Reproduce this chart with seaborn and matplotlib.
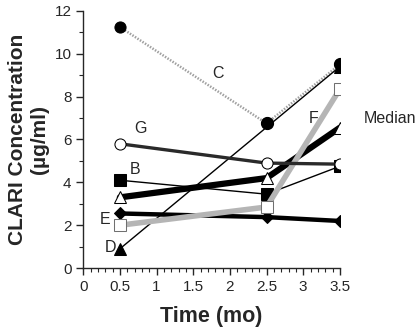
import pandas as pd
import numpy as np
import matplotlib
matplotlib.use('Agg')
import matplotlib.pyplot as plt
import seaborn as sns
from matplotlib.ticker import MultipleLocator

# data
time_mo = [0.5, 2.5, 3.5]
conc_C = [11.25, 6.75, 9.5]
conc_G = [5.8, 4.9, 4.85]
conc_B = [4.1, 3.45, 4.75]
conc_median = [3.3, 4.2, 6.55]
conc_E = [2.55, 2.38, 2.2]
conc_F = [2.0, 2.85, 8.35]
# D: the 2.5 mo point is hidden under C, only the end points show
time_D = [0.5, 3.5]
conc_D = [0.9, 9.4]

series_names = ['C', 'B', 'E', 'Median', 'F', 'G', 'D']
series_times = [time_mo, time_mo, time_mo, time_mo, time_mo, time_mo, time_D]
series_values = [conc_C, conc_B, conc_E, conc_median, conc_F, conc_G, conc_D]

rows = []
for name, times, vals in zip(series_names, series_times, series_values):
    for t, v in zip(times, vals):
        rows.append({'series': name, 'time': t, 'conc': v})
df = pd.DataFrame(rows)

sns.set_style('ticks')
plt.rcParams['font.family'] = ['Liberation Sans', 'DejaVu Sans']

# line / marker look per series
styles = {
    'C': dict(color='#a0a0a0', linewidth=1.8, linestyle=(0, (0.6, 0.6)), marker='o',
              markerfacecolor='black', markeredgecolor='black', markersize=8, zorder=3),
    'B': dict(color='black', linewidth=1.0, marker='s', markerfacecolor='black',
              markeredgecolor='black', markersize=8, zorder=4),
    'E': dict(color='black', linewidth=3.2, marker='D', markerfacecolor='black',
              markeredgecolor='black', markersize=6, zorder=4),
    'Median': dict(color='black', linewidth=4.5, marker='^', markerfacecolor='white',
                   markeredgecolor='black', markersize=8, zorder=5),
    'F': dict(color='#b5b5b5', linewidth=4.0, marker='s', markerfacecolor='white',
              markeredgecolor='#707070', markersize=8, zorder=6),
    'G': dict(color='#2a2a2a', linewidth=2.4, marker='o', markerfacecolor='white',
              markeredgecolor='black', markersize=8, zorder=7),
    'D': dict(color='black', linewidth=1.0, marker='^', markerfacecolor='black',
              markeredgecolor='black', markersize=8, zorder=3.5),
}

fig = plt.figure(figsize=(4.18, 3.29), dpi=100)
ax = fig.add_axes([0.199, 0.185, 0.614, 0.782])

for name in series_names:
    sub = df[df['series'] == name]
    sns.lineplot(data=sub, x='time', y='conc', ax=ax, estimator=None,
                 sort=False, legend=False, **styles[name])

# C markers sit on top of the D line/triangle
ax.plot(time_mo[1:], conc_C[1:], 'o', color='black', markersize=8.5, zorder=8)

labels = [('C', 1.76, 9.1), ('G', 0.7, 6.5), ('B', 0.64, 4.6), ('E', 0.23, 2.25),
          ('D', 0.3, 0.95), ('F', 3.07, 7.0), ('Median', 3.82, 7.0)]
for txt, lx, ly in labels:
    ax.text(lx, ly, txt, fontsize=11.5, ha='left', va='center', clip_on=False)

ax.set_xlim(0, 3.5)
ax.set_ylim(0, 12)
ax.xaxis.set_major_locator(MultipleLocator(0.5))
ax.xaxis.set_minor_locator(MultipleLocator(0.1))
ax.yaxis.set_major_locator(MultipleLocator(2))
ax.yaxis.set_minor_locator(MultipleLocator(1))
ax.set_xticks([0, 0.5, 1, 1.5, 2, 2.5, 3, 3.5])
ax.set_xticklabels(['0', '0.5', '1', '1.5', '2', '2.5', '3', '3.5'])
ax.tick_params(axis='both', which='major', labelsize=11, length=5, width=1, direction='out')
ax.tick_params(axis='both', which='minor', length=3, width=0.8, direction='out')
sns.despine(ax=ax)
ax.spines['left'].set_linewidth(1)
ax.spines['bottom'].set_linewidth(1)

ax.set_xlabel('Time (mo)', fontsize=15.5, fontweight='bold', labelpad=9)
ax.set_ylabel('CLARI Concentration\n(\u00b5g/ml)', fontsize=15, fontweight='bold', labelpad=4)

fig.savefig('out.png', dpi=100)
